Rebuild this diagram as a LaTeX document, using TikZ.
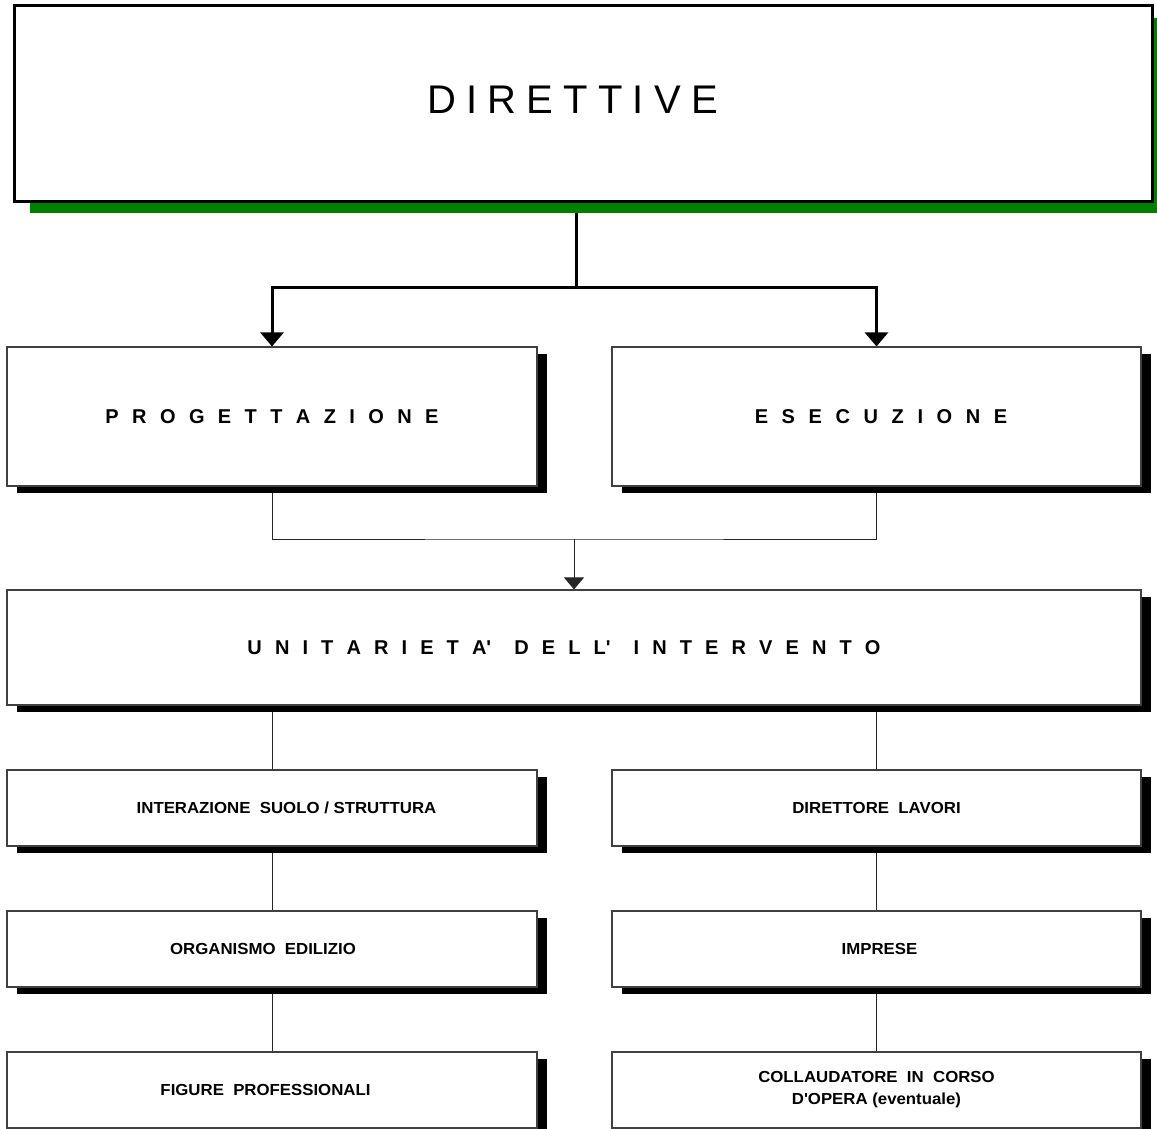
\documentclass[tikz,border=0pt]{standalone}
\usepackage{fontspec}
\setmainfont{Liberation Sans}
\newfontfamily\widesans[FakeStretch=1.05]{Liberation Sans}
\usetikzlibrary{arrows.meta,shadows}
\definecolor{shgreen}{RGB}{0,128,0}
\pgfdeclarelayer{background}
\pgfsetlayers{background,main}
% letter-spaced caption: spaces between letters take the given width
\newcommand\spacedtext[2]{{\spaceskip=#1\relax #2}}
\newcommand\apos{\textquotesingle}
\tikzset{
  panel/.style={draw=black!75, line width=1.1pt, fill=white, inner sep=0pt,
    minimum width=530pt,
    drop shadow={shadow xshift=10pt, shadow yshift=-7pt, fill=black, opacity=1}},
  smallpanel/.style={panel, minimum height=76pt,
    font=\widesans\bfseries\fontsize{16}{21}\selectfont, align=center},
  bigpanel/.style={panel, font=\bfseries\fontsize{20}{24}\selectfont},
  thin link/.style={draw=black!85, line width=1pt},
  thick link/.style={draw=black, line width=3pt},
}
\begin{document}
\begin{tikzpicture}[x=1pt,y=-1pt]
\useasboundingbox (0,0) rectangle (1157,1129);
\clip (0,0) rectangle (1157,1129);

% title box with green shadow
\node[draw=black, line width=3pt, fill=white, inner sep=0pt,
      minimum width=1138pt, minimum height=195pt,
      drop shadow={shadow xshift=16pt, shadow yshift=-12pt, fill=shgreen, opacity=1}]
      (dir) at (583,103.5) {};
\node[font=\fontsize{40}{48}\selectfont, inner sep=0pt] (dirtext) at (572.5,100)
      {\spacedtext{10.2pt}{D I R E T T I V E}};

% main branches
\node[bigpanel, minimum height=139pt] (prog) at (272,416.5)
      {\spacedtext{13.4pt}{P R O G E T T A Z I O N E}};
\node[bigpanel, minimum height=139pt, minimum width=529pt] (esec) at (876.5,416.5)
      {\hspace*{9pt}\spacedtext{13.6pt}{E S E C U Z I O N E}};

\node[bigpanel, minimum height=115pt, minimum width=1134pt] (unit) at (574,647.5)
      {\spacedtext{13.1pt}{U N I T A R I E T A\apos{} \hskip10pt D E L L\apos{} \hskip10pt I N T E R V E N T O}\hspace*{20pt}};

% left column
\node[smallpanel] (r1l) at (272,808) {\hspace*{29pt}INTERAZIONE~~SUOLO / STRUTTURA};
\node[smallpanel] (r2l) at (272,949) {ORGANISMO~~EDILIZIO\hspace*{18pt}};
\node[smallpanel] (r3l) at (272,1090) {FIGURE~~PROFESSIONALI\hspace*{13pt}};

% right column
\node[smallpanel, minimum width=529pt] (r1r) at (876.5,808) {DIRETTORE~~LAVORI};
\node[smallpanel, minimum width=529pt] (r2r) at (876.5,949) {\hspace*{6pt}IMPRESE};
\node[smallpanel, minimum width=529pt] (r3r) at (876.5,1090)
      {COLLAUDATORE~~IN~~CORSO\\[1pt]D\apos{}OPERA (eventuale)};

\coordinate (split) at (576,287);
\coordinate (merge) at (574,539);

\begin{pgfonlayer}{background}
  \draw[thick link] (dir.south -| split) -- (split);
  \draw[thick link, -{Triangle[width=23pt,length=14pt]}] (split) -| (prog.north);
  \draw[thick link, -{Triangle[width=23pt,length=14pt]}] (split) -| (esec.north);

  \draw[thin link] (prog.south) |- (merge) -| (esec.south);
  \draw[thin link, -{Triangle[width=20pt,length=12pt]}] (merge) -- (unit.north);

  \draw[thin link] (unit.south -| r1l.north) -- (r1l.north);
  \draw[thin link] (unit.south -| r1r.north) -- (r1r.north);
  \draw[thin link] (r1l.south) -- (r2l.north);
  \draw[thin link] (r2l.south) -- (r3l.north);
  \draw[thin link] (r1r.south) -- (r2r.north);
  \draw[thin link] (r2r.south) -- (r3r.north);
\end{pgfonlayer}
\end{tikzpicture}
\end{document}
